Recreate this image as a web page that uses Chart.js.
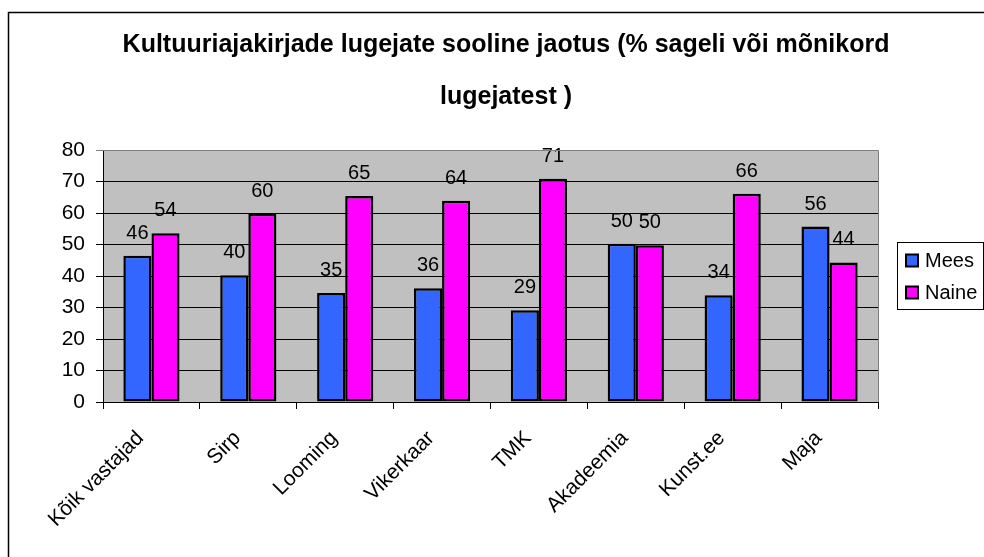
<!DOCTYPE html>
<html>
<head>
<meta charset="utf-8">
<script src="https://cdn.jsdelivr.net/npm/chart.js@4/dist/chart.umd.min.js"></script>
<style>
  body { margin: 0; background: #fff; }
  #wrap { width: 984px; height: 557px; }
</style>
</head>
<body>
<div id="wrap"><canvas id="chart-gender" width="984" height="557"></canvas></div>
<script>
const categories = ['Kõik vastajad', 'Sirp', 'Looming', 'Vikerkaar', 'TMK', 'Akadeemia', 'Kunst.ee', 'Maja'];
const meesValues = [46.4, 40.2, 34.6, 36.1, 29.1, 50.2, 33.9, 55.7];
const naineValues = [53.6, 59.8, 65.4, 63.9, 70.9, 49.8, 66.1, 44.3];
const yTicks = [0, 10, 20, 30, 40, 50, 60, 70, 80];
const titleLines = ['Kultuuriajakirjade lugejate sooline jaotus (% sageli või mõnikord', 'lugejatest )'];

const FONT = 'Liberation Sans, Arial, sans-serif';

// hall taust joonisalale + raam
const plotBackground = {
    id: 'plotBackground',
    beforeDraw(chart) {
        const { ctx, chartArea } = chart;
        ctx.save();
        ctx.fillStyle = '#fff';
        ctx.fillRect(0, 0, chart.width, chart.height);
        ctx.fillStyle = '#C0C0C0';
        ctx.fillRect(chartArea.left, chartArea.top, chartArea.right - chartArea.left, chartArea.bottom - chartArea.top);
        ctx.restore();
    },
    afterDraw(chart) {
        const { ctx, chartArea } = chart;
        ctx.save();
        ctx.strokeStyle = '#808080';
        ctx.lineWidth = 1;
        ctx.beginPath();
        ctx.moveTo(chartArea.left, chartArea.top + 0.5);
        ctx.lineTo(chartArea.right + 0.5, chartArea.top + 0.5);
        ctx.lineTo(chartArea.right + 0.5, chartArea.bottom);
        ctx.stroke();
        // välimine raam (parem ja alumine serv jäävad pildist välja)
        ctx.strokeStyle = '#000';
        ctx.lineWidth = 1.5;
        ctx.beginPath();
        ctx.moveTo(8.5, chart.height + 2);
        ctx.lineTo(8.5, 12.5);
        ctx.lineTo(chart.width + 2, 12.5);
        ctx.stroke();
        ctx.restore();
    }
};

// väärtused tulpade kohal
const barLabels = {
    id: 'barLabels',
    afterDatasetsDraw(chart) {
        const { ctx } = chart;
        ctx.save();
        ctx.font = '20px ' + FONT;
        ctx.fillStyle = '#000';
        ctx.textAlign = 'center';
        ctx.textBaseline = 'alphabetic';
        chart.data.datasets.forEach((ds, i) => {
            chart.getDatasetMeta(i).data.forEach((bar, j) => {
                ctx.fillText(Math.round(ds.data[j]), bar.x, bar.y - 17);
            });
        });
        ctx.restore();
    }
};

// pealkiri kahel real
const titlePlugin = {
    id: 'titlePlugin',
    afterDraw(chart) {
        const { ctx } = chart;
        ctx.save();
        ctx.font = 'bold 25px ' + FONT;
        ctx.fillStyle = '#000';
        ctx.textAlign = 'center';
        ctx.textBaseline = 'alphabetic';
        titleLines.forEach((line, i) => ctx.fillText(line, 506, 52 + i * 52));
        ctx.restore();
    }
};

// legend raamiga paremal
const boxLegend = {
    id: 'boxLegend',
    afterDraw(chart) {
        const { ctx } = chart;
        const x = 897, y = 242, w = 86, h = 67;
        ctx.save();
        ctx.fillStyle = '#fff';
        ctx.fillRect(x, y, w, h);
        ctx.strokeStyle = '#000';
        ctx.lineWidth = 1;
        ctx.strokeRect(x + 0.5, y + 0.5, w, h);
        ctx.font = '20px ' + FONT;
        ctx.textBaseline = 'middle';
        chart.data.datasets.forEach((ds, i) => {
            const cy = 260.5 + i * 32;
            ctx.fillStyle = ds.backgroundColor;
            ctx.fillRect(906, cy - 6, 12, 12);
            ctx.lineWidth = 2;
            ctx.strokeStyle = '#000';
            ctx.strokeRect(906, cy - 6, 12, 12);
            ctx.fillStyle = '#000';
            ctx.fillText(ds.label, 925, cy + 1);
        });
        ctx.restore();
    }
};

const ctx = document.getElementById('chart-gender').getContext('2d');
const chartGender = new Chart(ctx, {
    type: 'bar',
    data: {
        labels: categories,
        datasets: [{
            label: 'Mees',
            data: meesValues,
            backgroundColor: '#3366FF',
            borderColor: '#000',
            borderWidth: 2.5,
            borderSkipped: false
        }, {
            label: 'Naine',
            data: naineValues,
            backgroundColor: '#FF00FF',
            borderColor: '#000',
            borderWidth: 2.5,
            borderSkipped: false
        }]
    },
    options: {
        responsive: false,
        devicePixelRatio: 1,
        animation: false,
        datasets: {
            bar: { categoryPercentage: 0.58, barPercentage: 1 }
        },
        layout: {
            padding: { top: 150, left: 8, right: 106, bottom: 0 }
        },
        plugins: {
            legend: { display: false },
            title: { display: false },
            tooltip: { enabled: false }
        },
        scales: {
            x: {
                afterFit: scale => { scale.height = 155; },
                ticks: {
                    color: '#000',
                    font: { family: FONT, size: 21 },
                    minRotation: 45,
                    maxRotation: 45,
                    padding: 17,
                    labelOffset: -11
                },
                grid: {
                    offset: true,
                    drawOnChartArea: false,
                    tickLength: 7,
                    color: '#000'
                },
                border: { color: '#000', width: 1 }
            },
            y: {
                min: 0,
                max: 80,
                afterFit: scale => { scale.width = 95; },
                afterBuildTicks: scale => { scale.ticks = yTicks.map(v => ({ value: v })); },
                ticks: {
                    color: '#000',
                    font: { family: FONT, size: 21 },
                    padding: 11
                },
                grid: {
                    color: c => c.tick && c.tick.value === 80 ? '#808080' : '#000',
                    tickLength: 7
                },
                border: { color: '#000', width: 1 }
            }
        }
    },
    plugins: [plotBackground, barLabels, titlePlugin, boxLegend]
});
</script>
</body>
</html>
